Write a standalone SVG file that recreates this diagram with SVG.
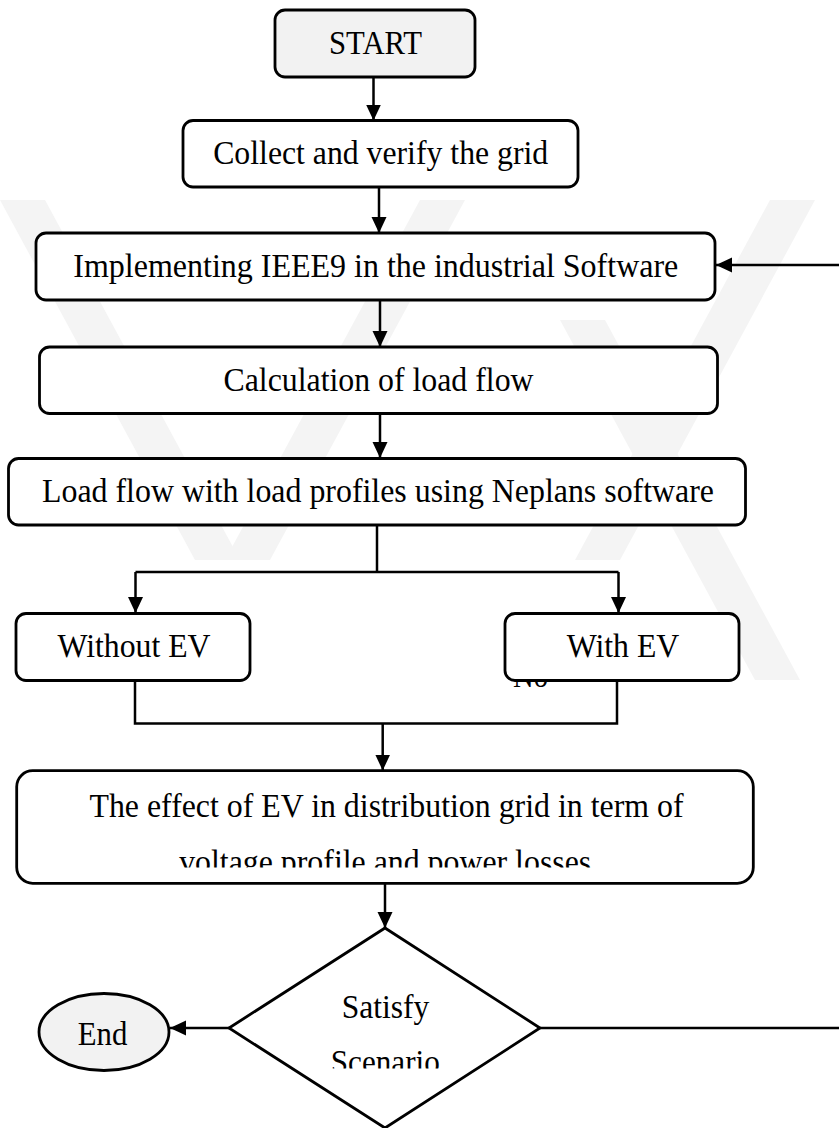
<svg xmlns="http://www.w3.org/2000/svg" width="839" height="1128" viewBox="0 0 839 1128">
<style>
.box{fill:#ffffff;stroke:#000;stroke-width:2.8}
.term{fill:#f2f2f2;stroke:#000;stroke-width:2.8}
.t{font-family:"Liberation Serif","Times New Roman",serif;font-size:33px;fill:#000;text-anchor:middle}
.c{fill:none;stroke:#000;stroke-width:2.5}
.wm{fill:#f4f4f4}
</style>
<defs>
<marker id="ah" markerUnits="userSpaceOnUse" markerWidth="17" markerHeight="17" refX="16" refY="7.5" orient="auto">
<path d="M0,0 L16,7.5 L0,15 z" fill="#000"/>
</marker>
<clipPath id="clipEffect"><rect x="0" y="760" width="839" height="107.5"/></clipPath>
<clipPath id="clipDec"><rect x="200" y="920" width="400" height="148.5"/></clipPath>
</defs>
<rect width="839" height="1128" fill="#fff"/>
<g id="watermark">
<polygon class="wm" points="0,200 45,200 240,560 195,560"/>
<polygon class="wm" points="420,200 465,200 270,560 225,560"/>
<polygon class="wm" points="770,200 815,200 620,560 575,560"/>
<polygon class="wm" points="560,320 605,320 800,680 755,680"/>
</g>
<g id="connectors">
<path class="c" d="M373.5,77 V120.5" marker-end="url(#ah)"/>
<path class="c" d="M379,187 V233" marker-end="url(#ah)"/>
<path class="c" d="M380,300 V347" marker-end="url(#ah)"/>
<path class="c" d="M380,413 V458" marker-end="url(#ah)"/>
<path class="c" d="M839,265 H716" marker-end="url(#ah)"/>
<path class="c" d="M377,525 V572"/>
<path class="c" d="M135.5,572 H618.5"/>
<path class="c" d="M135.5,572 V613" marker-end="url(#ah)"/>
<path class="c" d="M618.5,572 V613" marker-end="url(#ah)"/>
<path class="c" d="M135,681 V723.5 H617 V681"/>
<path class="c" d="M382.7,723.5 V770.5" marker-end="url(#ah)"/>
<path class="c" d="M385,883 V928" marker-end="url(#ah)"/>
<path class="c" d="M229,1028 H170" marker-end="url(#ah)"/>
<path class="c" d="M540,1028 H839"/>
</g>
<g id="start">
<rect class="term" x="275" y="10" width="200" height="67" rx="10"/>
<text class="t" x="375.5" y="54" textLength="93" lengthAdjust="spacingAndGlyphs">START</text>
</g>
<g id="collect">
<rect class="box" x="183" y="120.5" width="395" height="66.5" rx="10"/>
<text class="t" x="380.7" y="164" textLength="335" lengthAdjust="spacingAndGlyphs">Collect and verify the grid</text>
</g>
<g id="implement">
<rect class="box" x="36" y="233" width="679" height="67" rx="10"/>
<text class="t" x="375.8" y="277" textLength="605" lengthAdjust="spacingAndGlyphs">Implementing IEEE9 in the industrial Software</text>
</g>
<g id="calc">
<rect class="box" x="39.5" y="347" width="678" height="66.5" rx="10"/>
<text class="t" x="378.5" y="391" textLength="310" lengthAdjust="spacingAndGlyphs">Calculation of load flow</text>
</g>
<g id="loadflow">
<rect class="box" x="8.5" y="458.5" width="737" height="66.5" rx="10"/>
<text class="t" x="378" y="502" textLength="672" lengthAdjust="spacingAndGlyphs">Load flow with load profiles using Neplans software</text>
</g>
<g id="without">
<rect class="box" x="16" y="613.5" width="234" height="67" rx="10"/>
<text class="t" x="134" y="657" textLength="153" lengthAdjust="spacingAndGlyphs">Without EV</text>
</g>
<g id="no-label">
<text class="t" x="530.5" y="687" textLength="35" lengthAdjust="spacingAndGlyphs">No</text>
</g>
<g id="with">
<rect class="box" x="505" y="613.5" width="234" height="67" rx="10"/>
<text class="t" x="623" y="657" textLength="112.6" lengthAdjust="spacingAndGlyphs">With EV</text>
</g>
<g id="effect">
<rect class="box" x="16.7" y="770.7" width="736.6" height="112.6" rx="16"/>
<text class="t" x="386.5" y="817" textLength="594" lengthAdjust="spacingAndGlyphs">The effect of EV in distribution grid in term of</text>
<text class="t" x="385.2" y="873" textLength="412" lengthAdjust="spacingAndGlyphs" clip-path="url(#clipEffect)">voltage profile and power losses</text>
</g>
<g id="decision">
<polygon class="box" points="385,928 540,1028 385,1128 229,1028"/>
<text class="t" x="385.5" y="1018" textLength="87.6" lengthAdjust="spacingAndGlyphs">Satisfy</text>
<text class="t" x="385.3" y="1073" textLength="109" lengthAdjust="spacingAndGlyphs" clip-path="url(#clipDec)">Scenario</text>
</g>
<g id="end">
<ellipse class="term" cx="104" cy="1032" rx="65" ry="38.5"/>
<text class="t" x="102.5" y="1045" textLength="49.6" lengthAdjust="spacingAndGlyphs">End</text>
</g>
</svg>
